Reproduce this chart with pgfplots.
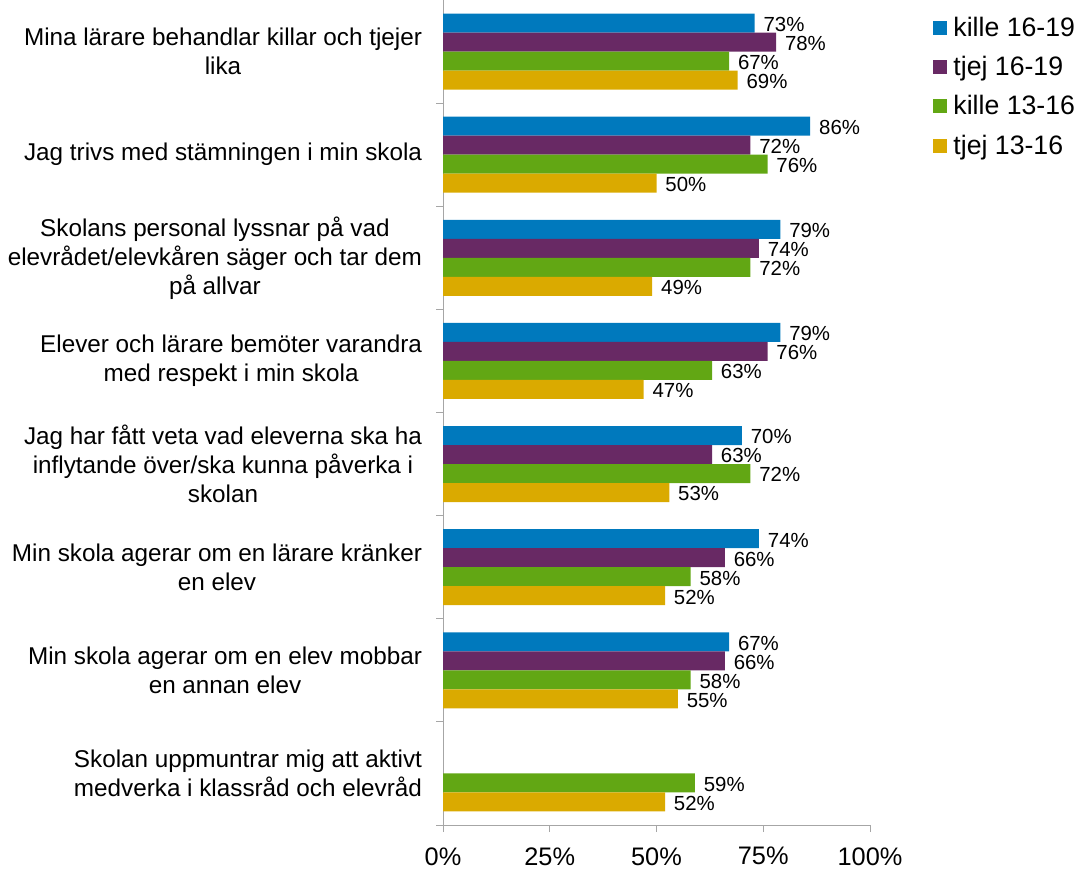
\documentclass[border=0pt]{standalone}
\usepackage{pgfplots}
\pgfplotsset{compat=1.18}
\usepackage{fontspec}
\setmainfont{Liberation Sans}
\definecolor{cblue}{RGB}{0,121,189}
\definecolor{cpurple}{RGB}{104,41,100}
\definecolor{cgreen}{RGB}{98,167,20}
\definecolor{cyellow}{RGB}{218,170,0}
\definecolor{axgray}{RGB}{166,166,166}
\begin{document}
\begin{tikzpicture}
\useasboundingbox (0,0) rectangle (810pt,651.75pt);
\begin{axis}[
  at={(332.25pt,33pt)}, anchor=south west,
  scale only axis, width=320.25pt, height=618.75pt,
  xbar, bar width=0.184,
  xmin=0, xmax=100, ymin=-0.5, ymax=7.5,
  clip=false,
  axis x line*=bottom, axis y line*=left,
  axis line style={color=axgray, line width=0.75pt},
  tick align=outside, major tick length=5.25pt, minor tick length=5.25pt,
  every major x tick/.append style={draw=axgray, line width=0.75pt},
  every major y tick/.append style={draw=none},
  every minor y tick/.append style={draw=axgray, line width=0.75pt},
  /pgf/number format/assume math mode=true,
  xtick={0,25,50,75,100},
  xticklabel={\pgfmathprintnumber{\tick}\%},
  xticklabel style={font=\fontsize{19}{22}\selectfont, yshift=-8pt},
  ytick={0,...,7},
  minor ytick={-0.5,0.5,1.5,2.5,3.5,4.5,5.5,6.5,7.5},
  yticklabels={
    {Skolan uppmuntrar mig att aktivt\\medverka i klassråd och elevråd},
    {Min skola agerar om en elev mobbar\\en annan elev},
    {Min skola agerar om en lärare kränker\\en elev},
    {Jag har fått veta vad eleverna ska ha\\inflytande över/ska kunna påverka i\\skolan},
    {Elever och lärare bemöter varandra\\med respekt i min skola},
    {Skolans personal lyssnar på vad\\elevrådet/elevkåren säger och tar dem\\på allvar},
    {Jag trivs med stämningen i min skola},
    {Mina lärare behandlar killar och tjejer\\lika}
  },
  yticklabel style={align=center, font=\fontsize{18.2}{21.75}\selectfont, xshift=-7pt},
  point meta=x,
  nodes near coords={\pgfmathprintnumber{\pgfplotspointmeta}\%},
  nodes near coords align={horizontal},
  every node near coord/.append style={font=\fontsize{15.3}{18}\selectfont, color=black, inner sep=0pt, xshift=6.5pt, yshift=-1pt},
  legend style={at={(1.148,0.983)}, anchor=north west, draw=none, fill=none,
    font=\fontsize{20}{24}\selectfont, row sep=9.5pt, column sep=2.5pt, inner sep=0pt},
  legend cell align=left,
]
\addplot[fill=cblue, draw=none, bar shift=0.276,
  legend image code/.code={\fill[cblue] (0pt,-5.25pt) rectangle (10.5pt,5.25pt);}]
  coordinates {(73,7) (86,6) (79,5) (79,4) (70,3) (74,2) (67,1)};
\addlegendentry{kille 16-19}
\addplot[fill=cpurple, draw=none, bar shift=0.092,
  legend image code/.code={\fill[cpurple] (0pt,-5.25pt) rectangle (10.5pt,5.25pt);}]
  coordinates {(78,7) (72,6) (74,5) (76,4) (63,3) (66,2) (66,1)};
\addlegendentry{tjej 16-19}
\addplot[fill=cgreen, draw=none, bar shift=-0.092,
  legend image code/.code={\fill[cgreen] (0pt,-5.25pt) rectangle (10.5pt,5.25pt);}]
  coordinates {(67,7) (76,6) (72,5) (63,4) (72,3) (58,2) (58,1) (59,0)};
\addlegendentry{kille 13-16}
\addplot[fill=cyellow, draw=none, bar shift=-0.276,
  legend image code/.code={\fill[cyellow] (0pt,-5.25pt) rectangle (10.5pt,5.25pt);}]
  coordinates {(69,7) (50,6) (49,5) (47,4) (53,3) (52,2) (55,1) (52,0)};
\addlegendentry{tjej 13-16}
\end{axis}
\end{tikzpicture}
\end{document}
